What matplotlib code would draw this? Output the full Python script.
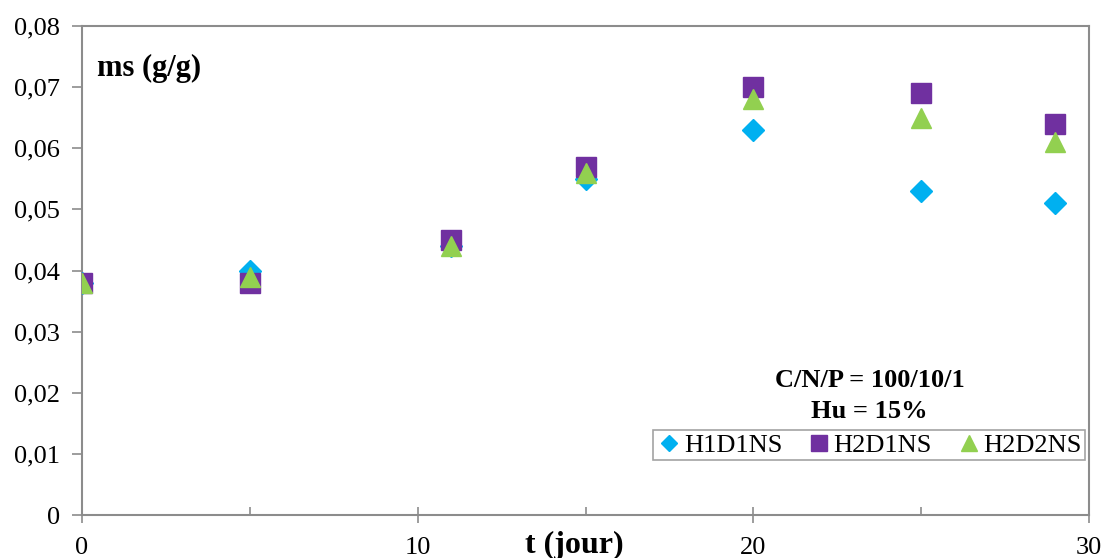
import matplotlib
matplotlib.use("Agg")
import matplotlib.pyplot as plt
from matplotlib.ticker import FixedLocator, FuncFormatter

t_days = [0, 5, 11, 15, 20, 25, 29]
h1d1ns = [0.038, 0.040, 0.044, 0.055, 0.063, 0.053, 0.051]
h2d1ns = [0.038, 0.038, 0.045, 0.057, 0.070, 0.069, 0.064]
h2d2ns = [0.038, 0.039, 0.044, 0.056, 0.068, 0.065, 0.061]
series_names = ["H1D1NS", "H2D1NS", "H2D2NS"]
x_ticks = [0, 10, 20, 30]
x_minor = [5, 15, 25]
y_ticks = [0, 0.01, 0.02, 0.03, 0.04, 0.05, 0.06, 0.07, 0.08]

plt.rcParams['font.family'] = ['Liberation Serif', 'DejaVu Serif']

fig = plt.figure(figsize=(11.06, 5.58), dpi=100)
ax = fig.add_axes([82/1106, 1 - 515/558, (1089-82)/1106, (515-26)/558])

ax.plot(t_days, h1d1ns, linestyle='none', marker='D', ms=10.7, color='#00B0F0',
        mec='#00B0F0', label=series_names[0], zorder=3)
ax.plot(t_days, h2d1ns, linestyle='none', marker='s', ms=15, color='#7030A0',
        mec='#7030A0', label=series_names[1], zorder=4)
ax.plot(t_days, h2d2ns, linestyle='none', marker='^', ms=14.5, color='#92D050',
        mec='#92D050', label=series_names[2], zorder=5)

ax.set_xlim(0, 30)
ax.set_ylim(0, 0.08)
ax.xaxis.set_major_locator(FixedLocator(x_ticks))
ax.xaxis.set_minor_locator(FixedLocator(x_minor))
ax.yaxis.set_major_locator(FixedLocator(y_ticks))

def yfmt(v, p):
    if abs(v) < 1e-12:
        return "0"
    return f"{v:.2f}".replace(".", ",")

ax.yaxis.set_major_formatter(FuncFormatter(yfmt))
ax.xaxis.set_major_formatter(FuncFormatter(lambda v, p: f"{int(v)}"))

for s in ax.spines.values():
    s.set_color('#8c8c8c')
    s.set_linewidth(1.5)

ax.tick_params(axis='y', which='major', direction='out', length=7, width=1.2,
               color='#8c8c8c', labelsize=19, pad=9)
ax.tick_params(axis='x', which='major', direction='inout', length=12, width=1.2,
               color='#8c8c8c', labelsize=19, pad=10)
ax.tick_params(axis='x', which='minor', direction='in', length=6, width=1.2,
               color='#8c8c8c')

ax.text(0.015, 0.913, "ms (g/g)", transform=ax.transAxes, fontsize=22,
        fontweight='bold', ha='left', va='center')
ax.text(0.782, 0.275, "C/N/P = 100/10/1", transform=ax.transAxes, fontsize=19,
        fontweight='bold', ha='center', va='center')
ax.text(0.782, 0.212, "Hu = 15%", transform=ax.transAxes, fontsize=19,
        fontweight='bold', ha='center', va='center')
fig.text(574/1106, 1 - 545/558, "t (jour)", fontsize=23, fontweight='bold',
         ha='center', va='center')

leg = ax.legend(loc='lower right', bbox_to_anchor=(0.996, 0.112),
                ncol=3, fontsize=19, frameon=True, fancybox=False,
                edgecolor='#8c8c8c', handletextpad=0.05, columnspacing=0.9,
                borderpad=0.12, handlelength=1.0, markerscale=0.75,
                borderaxespad=0)
leg.get_frame().set_linewidth(1.2)

fig.savefig("out.png", dpi=100)
